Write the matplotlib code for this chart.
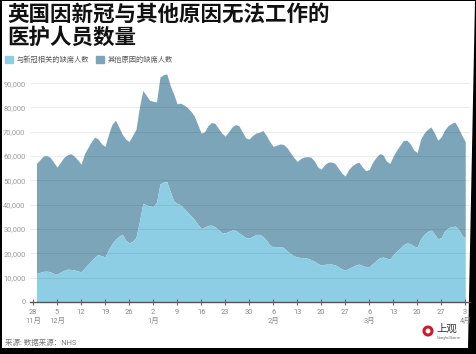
import matplotlib
matplotlib.use("Agg")
import matplotlib.pyplot as plt
from matplotlib.patches import Patch, Polygon, Ellipse
from matplotlib.ticker import FuncFormatter
import pandas as pd

plt.rcParams['font.family'] = ['Roboto', 'Noto Sans CJK SC', 'DejaVu Sans']

# daily values, 2021-11-29 .. 2022-04-03
start_date = "2021-11-29"
total = [
    57.0, 58.5, 60.0, 60.2, 59.5, 57.5, 55.5, 57.5, 59.5, 60.5,
    61.0, 60.0, 58.5, 56.7, 61.0, 63.5, 66.0, 67.8, 67.0, 65.0,
    64.0, 69.0, 73.0, 74.8, 72.0, 69.0, 67.0, 66.0, 68.5, 71.0,
    80.0, 87.0, 85.0, 83.0, 82.5, 82.3, 92.5, 93.5, 93.8, 89.0,
    85.5, 81.5, 81.8, 81.0, 80.0, 78.5, 76.5, 73.0, 69.5, 70.0,
    72.5, 73.8, 73.5, 71.5, 69.5, 68.2, 70.0, 72.0, 73.0, 72.5,
    70.0, 67.5, 67.0, 68.5, 69.5, 69.8, 70.5, 68.5, 66.0, 64.0,
    64.5, 65.0, 64.8, 63.5, 61.5, 59.5, 57.8, 59.0, 59.6, 59.8,
    59.6, 58.0, 55.5, 54.6, 56.5, 57.5, 57.6, 57.0, 55.0, 53.0,
    51.8, 54.5, 56.0, 57.0, 57.5, 55.5, 54.0, 54.5, 57.5, 59.5,
    61.0, 60.5, 58.0, 57.0, 60.0, 62.5, 64.5, 66.5, 66.5, 65.0,
    62.5, 61.5, 67.0, 69.5, 71.0, 72.0, 69.5, 66.5, 68.0, 70.8,
    72.5, 73.5, 74.0, 71.5, 68.5, 66.0,
]
covid = [
    11.8, 12.2, 12.6, 12.7, 12.4, 11.8, 11.5, 12.3, 13.0, 13.5,
    13.4, 13.2, 12.8, 12.4, 14.0, 15.5, 17.0, 18.5, 19.5, 19.0,
    18.6, 21.5, 24.0, 25.8, 27.0, 27.9, 25.5, 24.3, 25.0, 26.5,
    33.0, 40.5, 40.0, 39.5, 39.3, 41.0, 48.5, 49.3, 49.5, 45.5,
    41.5, 40.5, 40.0, 38.5, 37.0, 35.5, 34.0, 32.0, 30.2, 30.8,
    31.5, 31.6, 31.0, 29.8, 28.6, 28.4, 29.0, 29.6, 29.5, 28.5,
    27.5, 26.5, 26.3, 27.0, 27.8, 27.8, 27.0, 25.5, 23.5, 22.6,
    22.8, 22.7, 22.5, 21.0, 20.0, 19.0, 18.5, 18.3, 18.2, 18.0,
    17.5, 16.8, 15.8, 15.2, 15.5, 15.6, 15.6, 15.3, 14.5, 13.6,
    13.2, 13.8, 14.5, 15.2, 15.6, 15.0, 14.5, 14.6, 15.8, 17.0,
    18.2, 18.5, 18.0, 17.6, 19.5, 21.0, 22.2, 23.5, 24.3, 24.0,
    23.0, 22.6, 26.0, 27.8, 29.0, 29.6, 28.0, 26.0, 26.5, 29.3,
    30.5, 31.0, 31.2, 30.0, 27.5, 26.3,
]
total = [v * 1000 for v in total]
covid = [v * 1000 for v in covid]
dates = pd.date_range(start_date, periods=len(total), freq="D")

title = "英国因新冠与其他原因无法工作的\n医护人员数量"
label_covid = "与新冠相关的缺席人数"
label_other = "其他原因的缺席人数"
source = "来源: 数据来源：NHS"

c_covid = "#8ecee4"
c_other = "#7ca5ba"

W, H = 477, 354
fig = plt.figure(figsize=(W / 100, H / 100), dpi=100, facecolor="black")

# white page inside the dark screenshot frame (frame is a bit slanted)
page = Polygon([(2 / W, 1 - 1 / H), (475 / W, 1 - 1 / H),
                (468 / W, 1 - 348 / H), (2 / W, 1 - 348 / H)],
               closed=True, transform=fig.transFigure,
               facecolor="white", edgecolor="none", zorder=-10)
fig.patches.append(page)

ax = fig.add_axes([29.6 / W, 1 - 302 / H, 440.8 / W, 231 / H])
ax.set_facecolor("none")
ax.set_zorder(1)

ax.fill_between(dates, covid, total, color=c_other, lw=0)
ax.fill_between(dates, 0, covid, color=c_covid, lw=0)

ax.set_xlim(pd.Timestamp("2021-11-27"), pd.Timestamp("2022-04-04 12:00"))
ax.set_ylim(0, 95000)
ax.set_yticks(range(0, 90001, 10000))
ax.yaxis.set_major_formatter(FuncFormatter(lambda v, p: f"{int(v):,}"))

# weekly ticks, month name under the first tick of each month
ticks = pd.date_range("2021-11-28", "2022-04-03", freq="7D")
tick_labels = []
prev_month = None
for t in ticks:
    if t.month != prev_month:
        tick_labels.append(f"{t.day}\n{t.month}月")
    else:
        tick_labels.append(f"{t.day}")
    prev_month = t.month
ax.set_xticks(ticks)
ax.set_xticklabels(tick_labels, linespacing=1.3)

ax.set_axisbelow(False)
ax.grid(axis="y", color="black", alpha=0.07, lw=0.8)
for s in ["top", "right", "left"]:
    ax.spines[s].set_visible(False)
ax.spines["bottom"].set_color("#555555")
ax.spines["bottom"].set_linewidth(1.0)
ax.tick_params(axis="y", length=0, pad=3, labelsize=5.4, labelcolor="#9a9a9a")
ax.tick_params(axis="x", length=4, direction="inout", color="#666666",
               pad=3, labelsize=5.4, labelcolor="#8a8a8a")

fig.text(7 / W, 1 - 4 / H, title, fontsize=15.5, fontweight="bold",
         va="top", ha="left", family=["Noto Sans CJK SC", "DejaVu Sans"],
         linespacing=1.1, color="#111111")

handles = [Patch(color=c_covid, label=label_covid),
           Patch(color=c_other, label=label_other)]
leg = fig.legend(handles=handles, loc="upper left",
                 bbox_to_anchor=(5 / W, 1 - 56 / H), ncol=2, frameon=False,
                 fontsize=5.2, handlelength=1.1, handleheight=1.1,
                 handletextpad=0.5, columnspacing=1.0,
                 borderaxespad=0, borderpad=0)
for t in leg.get_texts():
    t.set_color("#555555")

fig.text(5 / W, 1 - 343 / H, source, fontsize=5.4, color="#777777",
         va="center", ha="left")

# little logo bottom right
fig.add_artist(Ellipse((428 / W, 1 - 331 / H), 8 / W, 8 / H,
                       transform=fig.transFigure, fill=False,
                       ec="#d0192b", lw=2.2))
fig.text(436 / W, 1 - 329 / H, "上观", fontsize=7.5, color="#333333",
         va="center", ha="left", family=["Noto Sans CJK SC", "DejaVu Sans"])
fig.text(437 / W, 1 - 338 / H, "Shanghai Observer", fontsize=2, color="#666666",
         va="center", ha="left")

fig.savefig("out.png", dpi=100, facecolor=fig.get_facecolor())
